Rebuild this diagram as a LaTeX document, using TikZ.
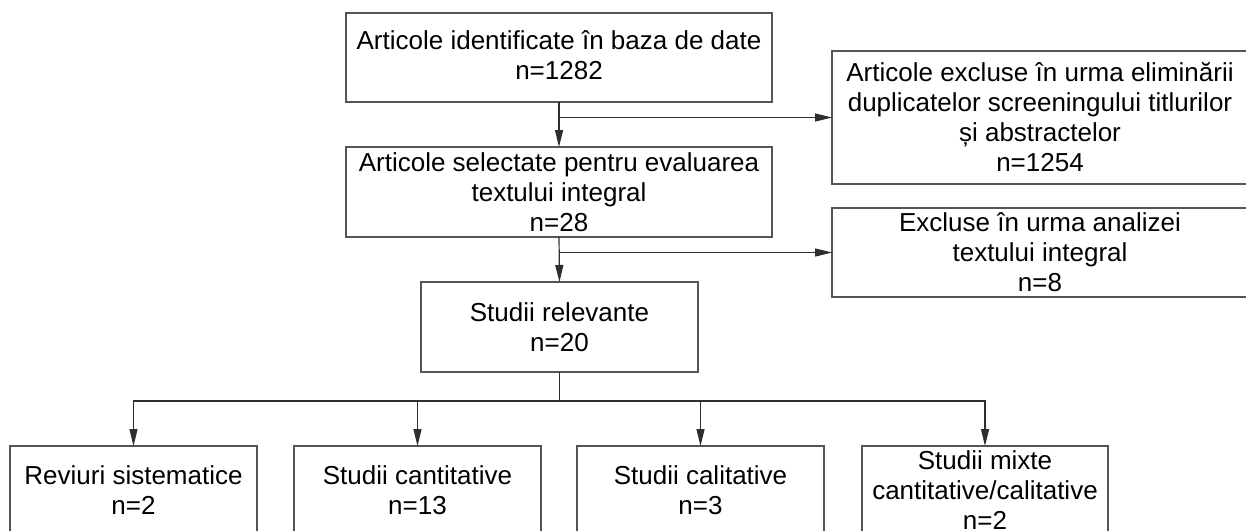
\documentclass[tikz,border=0pt]{standalone}
\usepackage{fontspec}
\setmainfont{Liberation Sans}
\usetikzlibrary{arrows.meta}
\definecolor{boxgray}{HTML}{555555}
\definecolor{linegray}{HTML}{2E2E2E}
\newcommand{\bxl}[1]{\smash{#1}\rule{0pt}{18.7pt}}
\begin{document}
\begin{tikzpicture}[x=1pt,y=-1pt,
  box/.style={draw=boxgray, line width=1.5pt, inner sep=0pt, outer sep=0pt,
    align=center, font=\fontsize{26}{30}\selectfont, text=black},
  conn/.style={draw=linegray, line width=1.2pt},
  arr/.style={conn, -{Triangle[length=17pt,width=8pt]}}]
\fill[white] (0,0) rectangle (1246,530);
\clip (0,0) rectangle (1246,530);

\node[box, minimum width=426pt, minimum height=89pt] (b1) at (559,57.5)
  {\bxl{Articole identificate în baza de date}\\\bxl{n=1282}\rule[-5pt]{0pt}{0pt}};
\node[box, minimum width=426pt, minimum height=90pt] (b2) at (559,192)
  {\bxl{Articole selectate pentru evaluarea}\\\bxl{textului integral}\\\bxl{n=28}};
\node[box, minimum width=277pt, minimum height=90pt] (b4) at (559.5,327)
  {\bxl{Studii relevante}\\\bxl{n=20}};
\node[box, minimum width=416pt, minimum height=133pt] (b3) at (1040,117.5)
  {\bxl{Articole excluse în urma eliminării}\\\bxl{duplicatelor screeningului titlurilor}\\\bxl{și abstractelor}\\\bxl{n=1254}};
\node[box, minimum width=416pt, minimum height=89pt] (b5) at (1040,252.5)
  {\bxl{Excluse în urma analizei}\\\bxl{textului integral}\\\bxl{n=8}};

\node[box, minimum width=247pt, minimum height=88pt] (c1) at (133.5,490)
  {\bxl{Reviuri sistematice}\\\bxl{n=2}};
\node[box, minimum width=247pt, minimum height=88pt] (c2) at (417.5,490)
  {\bxl{Studii cantitative}\\\bxl{n=13}};
\node[box, minimum width=247pt, minimum height=88pt] (c3) at (700.5,490)
  {\bxl{Studii calitative}\\\bxl{n=3}};
\node[box, minimum width=246pt, minimum height=88pt] (c4) at (985,490)
  {\bxl{Studii mixte}\\\bxl{cantitative/calitative}\\\bxl{n=2}};

\draw[arr] (b1.south) -- (b2.north);
\draw[arr] (b1.south |- b3.west) -- (b3.west);
\draw[arr] (b2.south) -- (b4.north);
\draw[arr] (b2.south |- b5.west) -- (b5.west);

\coordinate (bus) at (559.5,401);
\draw[conn] (b4.south) -- (bus);
\draw[arr] (bus) -| (c1.north);
\draw[arr] (bus) -| (c2.north);
\draw[arr] (bus) -| (c3.north);
\draw[arr] (bus) -| (c4.north);
\end{tikzpicture}
\end{document}
